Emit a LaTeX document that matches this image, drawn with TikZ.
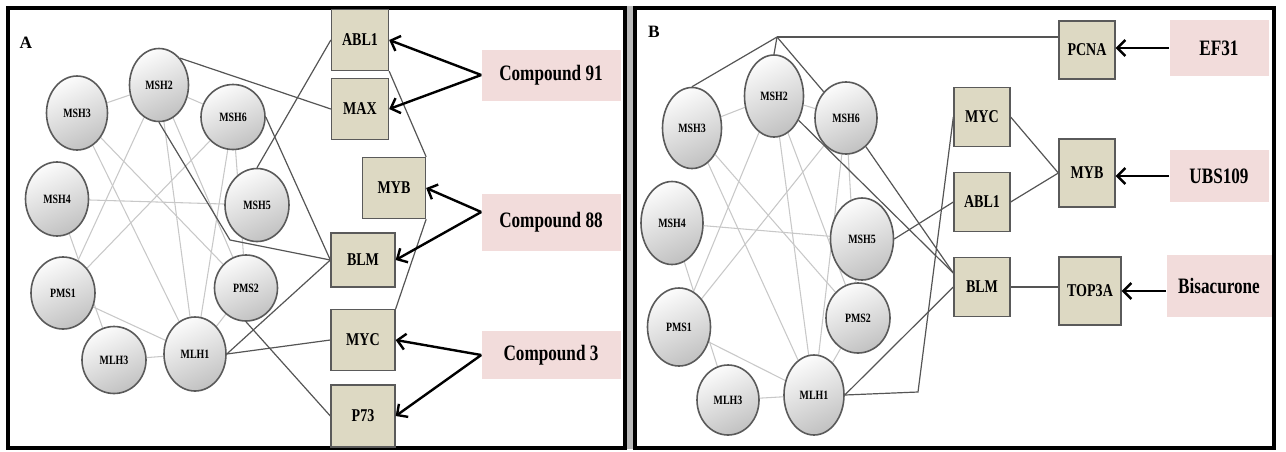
\documentclass[tikz,border=0pt]{standalone}
\usepackage{fontspec}
\setmainfont{Liberation Serif}
\newfontfamily\nar{Liberation Serif}[FakeStretch=0.78]
\usetikzlibrary{shapes.geometric,arrows.meta,calc,backgrounds}
\definecolor{rectfill}{HTML}{DDD9C3}
\definecolor{pinkfill}{HTML}{F2DCDB}
\definecolor{edgedark}{HTML}{555555}
\definecolor{edgelight}{HTML}{C8C8C8}
\definecolor{ringcol}{HTML}{5A5A5A}
\begin{document}
\begin{tikzpicture}[x=0.75pt,y=-0.75pt,
  sz/.style 2 args={minimum width=#1*0.75pt, minimum height=#2*0.75pt},
  gnode/.style={ellipse, draw=ringcol, line width=1.2pt, inner sep=0pt,
    top color=gray!3, bottom color=gray!48, shading angle=25,
    font=\nar\bfseries\fontsize{9.5}{10}\selectfont},
  tnode/.style={rectangle, draw=ringcol, line width=1pt, fill=rectfill, inner sep=0pt,
    font=\nar\bfseries\fontsize{13.5}{15}\selectfont},
  dnode/.style={rectangle, fill=pinkfill, inner sep=0pt,
    font=\nar\bfseries\fontsize{16.5}{18}\selectfont},
  light/.style={draw=edgelight, line width=0.8pt},
  dark/.style={draw=edgedark, line width=0.9pt},
  arr/.style={draw=black, line width=1.8pt, -{Straight Barb[length=6pt,width=12pt]}},
  panelframe/.style={draw=black, line width=3pt},
  plabel/.style={font=\bfseries\fontsize{13}{14}\selectfont, inner sep=0pt}
]
\useasboundingbox (0,0) rectangle (1286,451);
% frames
\fill[gray!55] (627,6) rectangle (633,449);
\draw[panelframe] (7.5,7.5) rectangle (625,447.5);
\draw[panelframe] (635,7.5) rectangle (1273.5,447.5);
\node[plabel] (labA) at (26,43) {A};
\node[plabel] (labB) at (654,32) {B};

% ---------------- Panel A ----------------
\node[gnode, sz={59}{73}] (aMSH2) at (159,85) {MSH2};
\node[gnode, sz={61}{74}] (aMSH3) at (77,113) {MSH3};
\node[gnode, sz={64}{65}] (aMSH6) at (233,117) {MSH6};
\node[gnode, sz={63}{74}] (aMSH4) at (57,199) {MSH4};
\node[gnode, sz={64}{73}] (aMSH5) at (257,205) {MSH5};
\node[gnode, sz={64}{72}] (aPMS1) at (63,293) {PMS1};
\node[gnode, sz={63}{66}] (aPMS2) at (246,288) {PMS2};
\node[gnode, sz={64}{67}] (aMLH3) at (114,360) {MLH3};
\node[gnode, sz={62}{74}] (aMLH1) at (195,354) {MLH1};

\node[tnode, sz={57}{61}] (aABL1) at (360,40) {ABL1};
\node[tnode, sz={57}{61}] (aMAX) at (360,109) {MAX};
\node[tnode, sz={63}{61}] (aMYB) at (394,188) {MYB};
\node[tnode, sz={64}{54}] (aBLM) at (363,260) {BLM};
\node[tnode, sz={64}{61}] (aMYC) at (363,340) {MYC};
\node[tnode, sz={64}{62}] (aP73) at (363,416) {P73};

\node[dnode, sz={139}{51}] (c91) at (551,75) {Compound 91};
\node[dnode, sz={139}{57}] (c88) at (551,222) {Compound 88};
\node[dnode, sz={139}{48}] (c3) at (551,355) {Compound 3};

\coordinate (bendA) at (230,240);

% ---------------- Panel B ----------------
\node[gnode, sz={59}{81}] (bMSH3) at (692,128) {MSH3};
\node[gnode, sz={59}{82}] (bMSH2) at (774,96) {MSH2};
\node[gnode, sz={62}{72}] (bMSH6) at (846,118) {MSH6};
\node[gnode, sz={62}{83}] (bMSH4) at (672,223) {MSH4};
\node[gnode, sz={63}{82}] (bMSH5) at (862,239) {MSH5};
\node[gnode, sz={63}{78}] (bPMS1) at (679,327) {PMS1};
\node[gnode, sz={64}{70}] (bPMS2) at (858,318) {PMS2};
\node[gnode, sz={62}{70}] (bMLH3) at (728,400) {MLH3};
\node[gnode, sz={60}{80}] (bMLH1) at (814,395) {MLH1};

\node[tnode, sz={56}{58}] (bPCNA) at (1087,50) {PCNA};
\node[tnode, sz={56}{59}] (bMYC) at (982,117) {MYC};
\node[tnode, sz={56}{59}] (bABL1) at (982,202) {ABL1};
\node[tnode, sz={56}{59}] (bBLM) at (982,287) {BLM};
\node[tnode, sz={56}{68}] (bMYB) at (1087,173) {MYB};
\node[tnode, sz={62}{68}] (bTOP3A) at (1090,291) {TOP3A};

\node[dnode, sz={99}{56}] (ef31) at (1219,48) {EF31};
\node[dnode, sz={99}{52}] (ubs) at (1219,176) {UBS109};
\node[dnode, sz={105}{62}] (bis) at (1219,286) {Bisacurone};

\coordinate (hubB) at (777,37);
\coordinate (bendB) at (918,392);
\coordinate (blmIn) at ($(bBLM.west)+(0,-14)$);

% ---------------- edges ----------------
\begin{scope}[on background layer]
\foreach \p in {a,b}{
  \foreach \u/\v in {MSH3/MSH2, MSH2/PMS1, MSH2/MSH6, MSH2/MLH1, MSH2/PMS2,
                     MSH3/MLH1, MSH3/PMS2, MSH6/PMS1, MSH6/MLH1, MSH6/PMS2,
                     MSH4/MSH5, MSH4/MLH3, PMS1/MLH1, MLH3/MLH1, PMS2/MLH1}{
    \draw[light] (\p\u) -- (\p\v);
  }
}
% panel A dark
\draw[dark] (aMSH2.52) -- (aMAX.west);
\draw[dark] (aMSH5.north) -- (aABL1.west);
\draw[dark] (aMSH6.east) -- (aBLM.west);
\draw[dark] (aMSH2.south) -- (bendA) -- (aBLM.west);
\draw[dark] (aMLH1.east) -- (aBLM.west);
\draw[dark] (aMLH1.east) -- (aMYC.west);
\draw[dark] (aPMS2.south) -- (aP73.west);
\draw[dark] (aABL1.south east) -- (aMYB.north east);
\draw[dark] (aMYB.south east) -- (aMYC.north east);
% panel B dark
\draw[dark] (hubB) -- (bMSH3.north);
\draw[dark] (hubB) -- (bMSH2.north);
\draw[dark] (hubB) -- (bMSH6);
\draw[dark] (hubB) -- (hubB -| bPCNA.west);
\draw[dark] (bMSH2) -- (blmIn);
\draw[dark] (bMSH6) -- (blmIn);
\draw[dark] (bMSH5.east) -- (bABL1.west);
\draw[dark] (bMLH1.east) -- (bBLM.west);
\draw[dark] (bMLH1.east) -- (bendB) -- (bMYC.west);
\draw[dark] (bMYC.east) -- (bMYB.west);
\draw[dark] (bABL1.east) -- (bMYB.west);
\draw[dark] (bBLM.east) -- (bBLM.east -| bTOP3A.west);
\end{scope}

% ---------------- arrows ----------------
\draw[arr] (c91.west) -- (aABL1.east);
\draw[arr] (c91.west) -- (aMAX.east);
\draw[arr] ($(c88.west)+(0,-10)$) -- (aMYB.east);
\draw[arr] ($(c88.west)+(0,-10)$) -- (aBLM.east);
\draw[arr] (c3.west) -- (aMYC.east);
\draw[arr] (c3.west) -- (aP73.east);
\draw[arr] (ef31.west) -- (ef31.west -| bPCNA.east);
\draw[arr] (ubs.west) -- (ubs.west -| bMYB.east);
\draw[arr] (bTOP3A.east -| bis.west) -- (bTOP3A.east);
\end{tikzpicture}
\end{document}
